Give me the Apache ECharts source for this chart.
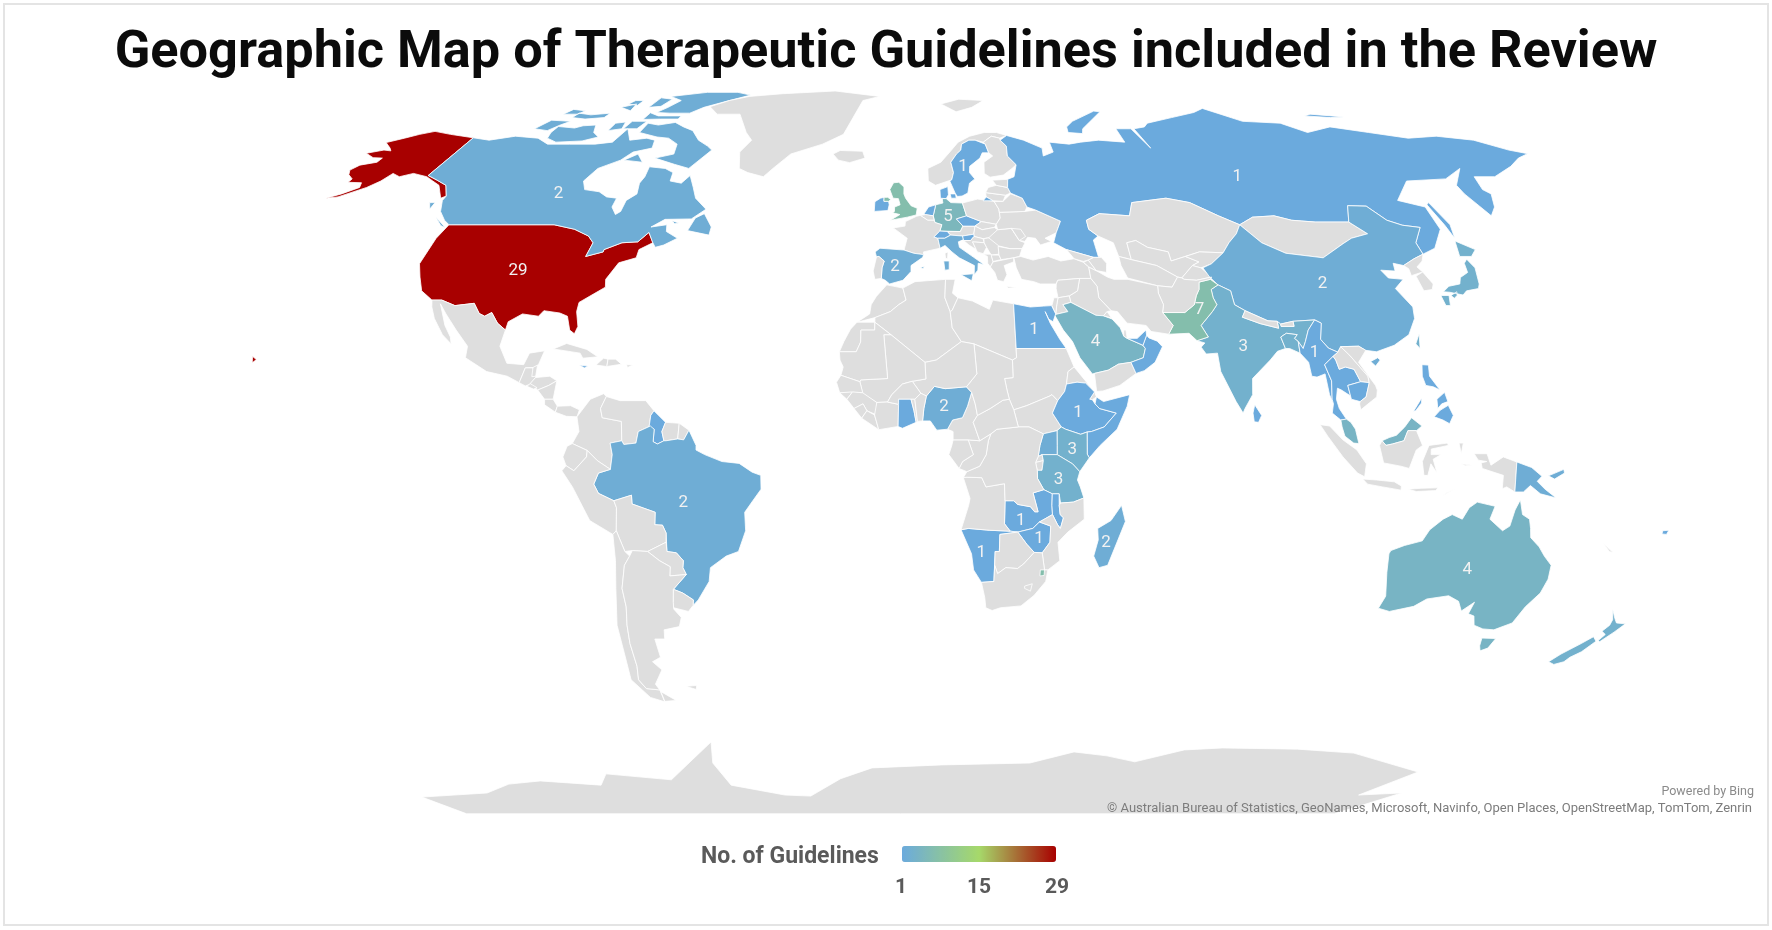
<!DOCTYPE html>
<html>
<head>
<meta charset="utf-8">
<title>Geographic Map of Therapeutic Guidelines</title>
<script src="https://cdn.jsdelivr.net/npm/echarts@6/dist/echarts.min.js"></script>
<style>html,body{margin:0;background:#fff}#main{width:1772px;height:930px}</style>
</head>
<body>
<div id="main"></div>
<script>
// guideline counts per country
const countries = ["United States","Canada","Brazil","Guyana","Jamaica","United Kingdom","Ireland","Sweden","Denmark","Germany","Netherlands","Czechia","Switzerland","Italy","Slovenia","Spain","Russia","China","Japan","Taiwan","India","Pakistan","Bangladesh","Myanmar","Thailand","Cambodia","Malaysia","Philippines","Sri Lanka","Papua New Guinea","Australia","New Zealand","Fiji","Egypt","Saudi Arabia","UAE","Oman","Nigeria","Ghana","Ethiopia","Somalia","Kenya","Uganda","Tanzania","Malawi","Zambia","Zimbabwe","Namibia","Madagascar","Eswatini"];
const guidelines = [29,2,2,1,1,7,1,1,1,5,1,1,1,2,1,2,1,2,3,3,3,7,3,1,1,1,4,1,1,2,4,3,1,1,4,1,1,2,1,1,1,3,2,3,1,1,1,1,2,7];
// countries that carry a number on the map, with where it sits (lon, lat)
const labelled = ["United States","Canada","Brazil","Sweden","Germany","Spain","Russia","China","India","Pakistan","Myanmar","Australia","Egypt","Saudi Arabia","Nigeria","Ethiopia","Kenya","Tanzania","Zambia","Zimbabwe","Namibia","Madagascar"];
const labelLon = [-98.6,-99,-53.3,15.5,10,-4,95,102,79,70,95.7,133.3,29.5,44,7.7,39,37.5,34.4,25.8,30.3,16.7,46.2];
const labelLat = [38.8,56,-11.5,62.4,50.7,39.7,60,36,22.3,30.3,21,-26,26,23.4,9.3,8,0,-6.5,-15.4,-19.3,-22.3,-20.2];
const legendTicks = ["1","15","29"];

// Robinson table, every 5 degrees of latitude
const PLEN = [1,.9986,.9954,.99,.9822,.973,.96,.9427,.9216,.8962,.8679,.835,.7986,.7597,.7186,.6732,.6213,.5722,.5322];
const PDFE = [0,.062,.124,.186,.248,.31,.372,.434,.4958,.5571,.6176,.6769,.7346,.7903,.8435,.8936,.9394,.9761,1];

// rough country outlines, flat lon,lat lists
const outlines = {
 "United States":[[-123,49,-95,49,-89,48,-84.5,46.5,-82.5,45,-83,42,-79,43,-79,43.5,-75,45,-71,45.2,-69,47.3,-67,45,-70,43.5,-70,41.7,-74,40.6,-76,37,-75.5,35.3,-78,33.8,-81,32,-81,30,-80,26.8,-80.5,25.2,-81.8,26,-83,29,-85,29.7,-89,30.2,-90,29,-94,29.5,-97,27.8,-97.2,26,-99.5,27.5,-101.5,29.8,-103,29,-104.5,29.6,-106.5,31.8,-111,31.3,-114.7,32.5,-117.1,32.5,-120.5,34.5,-122.5,37.5,-124.3,40.4,-124,46],[-156,20.3,-154.9,19.6,-155.7,18.9],[-141,69.6,-145,70,-150,70.5,-156.6,71.3,-160,70.5,-163,69.5,-166.8,68.4,-163,67,-161.5,66.3,-164,66.5,-168,65.7,-164,64.6,-161,64.5,-161,63.5,-165,62.8,-166,61.6,-164.5,60.5,-162,59.5,-162,58.7,-158,58.6,-157,57.5,-160,56,-163,55,-160,55.3,-155,57.5,-153,59,-152,60.8,-149,60,-146,60.8,-141,60,-138,59,-135,58,-131,55,-130,55.5,-133,58,-137,59.2,-141,60.3]],
 "Canada":[[-141,69.6,-135,69,-128,70,-120,69.5,-115,68,-108,68,-100,68,-95,68.5,-94,72,-90,69,-85,69.5,-82,69,-81,67,-86,66,-88,64,-93,62,-94.5,59,-92.5,57,-88,56.5,-85,55.3,-82,55,-82,53,-80,51.3,-79,52,-79,54.5,-77,56,-78,58.5,-77.5,60,-78,62.4,-73,62,-70,61,-69.5,59,-66,58.5,-64.5,60.3,-62,57.5,-60,55,-56,52.5,-59,50.3,-66,50.2,-69,48.5,-65,49,-64.5,47.5,-61,46,-64,44.5,-66,44,-67,45,-69,47.3,-71,45.2,-75,45,-79,43.5,-79,43,-83,42,-82.5,45,-84.5,46.5,-89,48,-95,49,-123,49,-125,50,-128,52,-130,54.5,-130,55.5,-133,58,-137,59.2,-141,60.3],[-62,66.5,-66,62,-71,63,-78,64.5,-73,65.5,-74,68,-78,69.5,-82,69.8,-89,71,-89,73.5,-85,73,-80,73.7,-76,72.5,-72,71.5,-68,69,-64,67.5],[-117,69.5,-113,68.5,-105,68.8,-101,69.8,-104,71,-106,73,-110,72.8,-112,72.2,-118,72.6,-118,71],[-125,72,-120,71.5,-118,73,-116,74,-123,74.3],[-90,76.5,-85,76.3,-78,76.3,-75,78,-68,80,-62,82,-68,83,-80,83,-92,81.5,-86,80,-88,78],[-92,74.5,-86,74.6,-80,74.6,-80,75.5,-88,75.5,-92,76.4],[-95,78,-91,78.3,-90,80.5,-95,81],[-87,64,-81,63.5,-84,65.5],[-59,47.7,-53,46.7,-53,48.5,-56,51.5,-58,50.5],[-128,50.7,-123.5,48.4,-125,48.8],[-117,75,-112,74.6,-106,75,-106,76.3,-112,75.8,-117,76.3],[-100,71.5,-96,72,-97,73.8,-100,73.5],[-95.5,72,-91,72,-90,74,-95,74],[-105,78,-100,77,-101,79],[-122,76,-117,76,-116,77,-121,77.4],[-104,79,-100,78.6,-100,80,-103,80],[-64,49.9,-62,49.4,-63,49.2],[-133,54,-131.5,54,-131.5,52.5]],
 "Mexico":[[-117.1,32.5,-114.7,32.5,-111,31.3,-106.5,31.8,-104.5,29.6,-103,29,-101.5,29.8,-99.5,27.5,-97.2,26,-97.8,22.5,-95.5,18.8,-91.5,18.5,-90.5,21,-87,21.5,-88,18.5,-89,17.9,-91,17.8,-92,14.6,-95,16,-100,17,-105.5,20,-105.5,22.5,-109,26,-112.5,29.5,-114.7,31.7,-112,27,-110,24.5,-109.5,23,-112,25,-115,28.5,-116.5,31]],
 "Guatemala":[[-92,14.6,-91,17.8,-89.2,17.8,-88.3,15.7,-89.5,14.2,-90.5,13.9]],
 "Belize":[[-89.2,17.9,-88.2,18.4,-88.3,16,-89.2,15.9]],
 "Honduras":[[-89.4,14.4,-88.3,15.7,-85,16,-83.2,15,-85,14,-87.5,13]],
 "El Salvador":[[-90.1,13.8,-89.4,14.4,-87.7,13.5,-88.5,13.2]],
 "Nicaragua":[[-87.5,13,-85,14,-83.2,15,-83.7,11,-85.7,11]],
 "Costa Rica":[[-85.7,11,-83.7,11,-82.6,9.5,-83,8.2,-85.6,9.8]],
 "Panama":[[-83,8.2,-82.6,9.5,-79.5,9.6,-77.4,8.7,-77.9,7.2,-80.4,7.3]],
 "Cuba":[[-85,21.9,-82,23.1,-77,21.8,-74.2,20.2,-77.7,19.9,-78.5,21]],
 "Jamaica":[[-78.4,18.4,-76.3,18.2,-77,17.8]],
 "Haiti":[[-74.4,18.4,-72.8,19.9,-71.7,19.7,-71.8,18.1]],
 "Dominican Rep":[[-71.7,19.7,-69.9,19.7,-68.4,18.6,-71.8,18.1]],
 "Puerto Rico":[[-67.2,18.5,-65.7,18.4,-66.9,17.9]],
 "Greenland":[[-73,78.2,-68,76,-60,76,-54,71,-51,69,-53,66,-51,62,-48,61,-43,60,-41,62,-37,65.5,-28,68,-22,70.5,-20,75,-18,80,-12,81.5,-30,83.5,-50,82.5,-62,81.5,-68,80]],
 "Iceland":[[-24,65.5,-22,64,-18.5,63.4,-14,64.5,-15,66.2,-22,66.4]],
 "Colombia":[[-77.9,7.2,-75,11,-72,12.2,-71.3,11.6,-72.5,9,-72,7,-67.5,6.2,-67.3,2,-70,1.5,-69.5,-1,-70,-4.2,-73,-2.3,-75.3,-0.1,-78.8,1.4,-77.3,4]],
 "Venezuela":[[-71.3,11.6,-68,10.7,-62,10.7,-60,8.5,-60.7,7.5,-61,5,-60.7,5.2,-63.5,4,-64,1.5,-66.8,1.2,-67.3,2,-67.5,6.2,-72,7,-72.5,9]],
 "Guyana":[[-60,8.5,-57.2,6,-58,4,-57.5,2,-59,1.3,-60,1.8,-59.8,4.5,-61,5,-60.7,7.5]],
 "Suriname":[[-57.2,6,-54,5.8,-54.3,2.4,-57,2,-57.5,2,-58,4]],
 "French Guiana":[[-54,5.8,-51.7,4.3,-52.9,2.2,-54.3,2.4]],
 "Brazil":[[-51.7,4.3,-50,1,-50,0,-48,-1,-44,-2.5,-40,-2.9,-37,-4.8,-35,-5.5,-35,-8.5,-37,-11,-39,-13.5,-39,-17.5,-41,-22,-44,-23,-48,-25.5,-48.7,-28.5,-52,-32.5,-53.5,-33.7,-53.2,-32.5,-55.5,-31,-57.6,-30.2,-54,-27,-54.6,-25.5,-54.3,-24,-55.8,-22.3,-58,-22,-57.8,-18,-58.5,-16.3,-60.3,-16.2,-60,-13.5,-65.3,-11.7,-65.3,-9.8,-69.5,-11,-73,-9.4,-74,-7.4,-72.8,-5,-70,-4.2,-69.5,-1,-70,1.5,-67.3,2,-66.8,1.2,-64,1.5,-63.5,4,-60.7,5.2,-59.8,4.5,-60,1.8,-59,1.3,-57.5,2,-57,2,-54.3,2.4,-52.9,2.2]],
 "Ecuador":[[-78.8,1.4,-75.3,-0.1,-75.5,-1.5,-78.5,-4.5,-80.3,-3.4,-81,-1.5,-80,0.8]],
 "Peru":[[-80.3,-3.4,-78.5,-4.5,-75.5,-1.5,-75.3,-0.1,-73,-2.3,-70,-4.2,-72.8,-5,-74,-7.4,-73,-9.4,-69.5,-11,-69,-12.5,-69.5,-17.5,-70.4,-18.3,-75.5,-15.3,-79,-8,-81.3,-4.5]],
 "Bolivia":[[-69.5,-11,-65.3,-9.8,-65.3,-11.7,-60,-13.5,-60.3,-16.2,-58.5,-16.3,-57.8,-18,-58,-20,-62.6,-22,-66.2,-21.8,-68,-22,-69,-19,-69.5,-17.5,-69,-12.5]],
 "Paraguay":[[-62.6,-22,-58,-20,-58,-22,-55.8,-22.3,-54.3,-24,-54.6,-25.5,-54,-27,-58,-27.3,-57.6,-25.3,-60,-24]],
 "Chile":[[-70.4,-18.3,-69.5,-17.5,-69,-19,-68,-22,-67,-23,-68.5,-25,-70,-30,-70,-34,-71,-38,-71.7,-42,-72,-47,-73,-50,-72,-52,-68.5,-52.3,-68.6,-55,-72,-54,-75,-50,-74,-44,-73.5,-38,-71.5,-30,-70.5,-24]],
 "Argentina":[[-66.2,-21.8,-62.6,-22,-60,-24,-57.6,-25.3,-58,-27.3,-54,-27,-57.6,-30.2,-58.2,-33,-58.4,-34.5,-57,-36.3,-58,-38.3,-62,-39,-62.5,-41,-65,-41,-65,-45,-67.5,-46,-65.8,-47.8,-69,-51,-68.5,-52.3,-72,-52,-73,-50,-72,-47,-71.7,-42,-71,-38,-70,-34,-70,-30,-68.5,-25,-67,-23],[-68.4,-52.7,-65.2,-54.7,-68.5,-54.9]],
 "Uruguay":[[-57.6,-30.2,-55.5,-31,-53.2,-32.5,-53.5,-33.7,-54.9,-35,-58.4,-34.2,-58.2,-33]],
 "Falklands":[[-61,-51.5,-58,-51.3,-58.5,-52.2]],
 "Ireland":[[-10,52,-6.3,52.2,-6,53.5,-6.2,54.3,-7.5,54.3,-7.5,55.2,-8.5,55,-10,54.2]],
 "United Kingdom":[[-5.5,50,-1,50.7,1.4,51.2,1.7,52.7,0,53.3,-1.5,55,-2,56,-2,57.6,-3.5,58.7,-5,58.6,-6,57,-5,55,-3.5,54.9,-3,53.5,-4.5,53,-4.5,52,-5,51.7,-3,51.3],[-7.5,54.3,-6.2,54.3,-5.6,54.7,-6.5,55.2,-7.5,55.2]],
 "Norway":[[5,59,7,58,10.7,59,11.8,59.3,12.5,61,12,63.5,14,65.5,15.5,66.5,16,68,18.5,69,20.5,69,23,68.5,26,70,28.5,69.5,31,70.2,28,71,24,71,19,70,15,68.5,12,66,9,63.5,5,62]],
 "Sweden":[[11.2,59,12.5,56,13,55.4,14.3,55.5,16,56.2,16.8,58.5,18.5,59.5,17.2,61,17.5,62.5,21,64.5,22,65.8,24,65.8,23.5,68,20.5,69,18.5,69,16,68,15.5,66.5,14,65.5,12,63.5,12.5,61,11.8,59.3]],
 "Finland":[[21.5,60.8,23,59.9,27,60.4,30,62,31.5,62.9,29.5,65,30,67.5,28.5,69,28.5,69.5,26,70,23,68.5,23.5,68,24,65.8,25,65,22,63.5]],
 "Denmark":[[8.2,55,8.2,57,10.5,57.7,10.5,55.8,9.8,54.9],[11.2,55,12.6,55,12.5,56,11,56]],
 "Germany":[[6.8,53.5,8.8,53.9,8.7,54.9,9.8,54.9,11,54,14.2,53.9,15,51,12.2,50.3,13.8,48.7,13,47.5,7.6,47.6,8.2,49,6.4,49.5,6,51]],
 "Netherlands":[[3.5,51.4,4.8,53,6.8,53.5,6,51,4,51.2]],
 "Belgium":[[2.5,51.1,4,51.3,6,51,6.2,50,4.5,50]],
 "France":[[-1.8,43.4,-1,46,-4.7,48.3,-1.6,48.7,-1.5,49.7,1.5,50.9,2.5,51.1,4.5,50,6.2,50,6.4,49.5,8.2,49,7.6,47.6,6,46.3,7,46,7.5,43.8,3.2,43,3.2,42.4,0.7,42.7],[8.7,42.7,9.5,43,9.3,41.5,8.8,41.6]],
 "Spain":[[-9.2,43,-8,43.8,-1.8,43.4,0.7,42.7,3.2,42.4,3,41.8,0,40,0,38.7,-2,36.8,-5.3,36,-6.4,36.8,-7.4,37.2,-7.3,39.5,-6.8,41,-8.2,42,-8.8,41.9],[2.4,39.6,3.4,39.8,3,39.3]],
 "Portugal":[[-8.8,41.9,-8.2,42,-6.8,41,-7.3,39.5,-7.4,37.2,-9,37,-9.5,38.8]],
 "Switzerland":[[6,46.3,7.6,47.6,9.6,47.5,10.4,46.7,8.8,46,7,46]],
 "Austria":[[9.6,47.5,13,47.5,13.8,48.7,17,48.7,16.5,46.9,13.5,46.5,10.4,46.7]],
 "Italy":[[7,46,8.8,46,10.4,46.7,13.5,46.5,13.7,45.7,12.3,45.2,12.5,44,16,41.8,18.5,40.2,17,40.5,16.8,39,15.8,38,16,40,12.3,41.7,10.5,43,8.8,44.4,7.5,43.8],[12.5,38,15.6,38.2,15.1,36.7],[8.3,41,9.7,41,9.6,39.1,8.5,39]],
 "Czechia":[[12.2,50.3,15,51,18.8,49.7,17,48.7,13.8,48.7]],
 "Poland":[[14.2,53.9,18.5,54.8,23,54.3,24,52.5,24,50.5,22.7,49.1,18.8,49.7,15,51]],
 "Slovakia":[[17,48.7,18.8,49.7,22.7,49.1,22.1,48.4,18.8,47.9]],
 "Hungary":[[16.5,46.9,17,48.7,18.8,47.9,22.1,48.4,22.9,47.9,21,46.2,18.8,45.9,16.5,46.4]],
 "Slovenia":[[13.5,46.5,16.5,46.9,16.5,46.4,15.5,45.5,13.7,45.5]],
 "Croatia":[[13.7,45.5,15.5,45.5,16.5,46.4,18.8,45.9,19,45,16,45.2,17,43,18.5,42.5,15,44.5]],
 "Bosnia":[[16,45.2,19,45,19.5,44,18.5,42.6,17,43]],
 "Serbia":[[19,45.9,21,46.2,22.7,44.5,22.5,42.5,20.5,42.3,19.5,44,19,45]],
 "Albania":[[18.5,42.5,20.5,42.5,20.8,40.8,20,39.7,19.4,40.5,19.5,42]],
 "North Macedonia":[[20.5,42.3,22.5,42.3,22.9,41.3,20.8,40.9]],
 "Romania":[[20.3,46.1,22.9,47.9,26.6,48.2,28.2,45.5,29.6,45,28.6,43.7,25.5,43.7,22.7,44.3]],
 "Bulgaria":[[22.5,44.2,25.5,43.7,28.6,43.7,27.7,42,26.2,41.7,22.9,41.3,22.5,42.3]],
 "Greece":[[20,39.7,20.8,40.8,26.2,41.7,26,40.8,23.5,40,24,38,23,36.5,21.5,36.8,21,38.5],[23.6,35.5,26.3,35.2,24,35.1]],
 "Turkey":[[26.2,41.7,28,42,31,41.2,35,42,38,41,41.5,41.5,43.7,40.7,44.8,39.7,44.8,37.2,42,37.2,36.5,36.8,36,36,32,36,30.5,36.5,27.5,37,26.5,39.5]],
 "Ukraine":[[22.7,49.1,24,50.5,24,51.8,31,52,34,52.3,40,49.8,38.2,47.2,35,46,36.5,45.3,33.5,44.5,32.5,46,30.5,46.2,29.6,45.3,28.2,45.5,26.6,48.2,22.9,47.9]],
 "Moldova":[[26.6,48.2,29,48,30,46.4,28.2,45.5]],
 "Belarus":[[23,54.3,25.5,54.3,28,56,31,55,31.8,53,31,52,24,51.8,24,52.5]],
 "Lithuania":[[21,55.3,22.8,54.4,25.5,54.3,26.5,55.7,21,56.3]],
 "Latvia":[[21,56.3,26.5,55.7,28,56.2,27.5,57.5,24.4,58,22,57.5]],
 "Estonia":[[24.4,58,27.5,57.5,28,59.4,23.5,59.2]],
 "Russia":[[28,59.4,30,60,31.5,62.9,29.5,65,30,67.5,28.5,69,31,70.2,36,69,41,67,40.5,65,44,66,44,68.5,50,68,54,68.5,60,69,68,68.5,68,72,73,72,75,67,74,72,78,72.5,80,73.5,90,75,100,76.5,105,77.7,113,74,125,73.5,130,71,140,72.5,150,71,160,69.5,170,70,180,69,186,66.5,190,65.6,185,64.5,179,62.5,170,60,164,60,162,57,163,56,160,53,156.7,51,155.5,56,156,58,163,62,155,59.5,143,59,135,54.5,141,53,140,48,135,43.8,131,42.5,131,45,135,48.4,130.7,48.9,127.5,50,125,53.2,120,53.3,117,49.6,108,49.6,102,50,98,51,92,50.7,87.5,49,83,51,77,54,71,55,61,54,59,51,51,51.5,47,50,47,48,49,46.5,47.5,45.6,47.8,42,48.5,41.8,46.5,41.8,40,43.5,37,45,38.2,47.2,40,49.8,34,52.3,31.8,53,31,55,28,56.2,27.5,57.5],[51.5,71,56,70.7,57,72,67,76.7,65,76.9,55,74,52,72.5],[142,46,143.5,49,143,54,142,53.5,142,49],[137,75.5,145,75,150,75.2,140,76],[20,54.4,22.8,54.4,21,55.3]],
 "Svalbard":[[11,79,16,76.7,22,78,27,80,18,80.5]],
 "Kazakhstan":[[47,50,51,51.5,59,51,61,54,71,55,77,54,83,51,87.5,49,85.5,47,82.5,45,80,42.8,74,43,70,42,66,41,66,43,61,44,58.5,45.5,56,45,56,41.3,53,42,52.5,45,49,46.5,47,48]],
 "Uzbekistan":[[56,45,58.5,45.5,61,44,66,43,66,41,70,42,73,40.8,71,40,67.5,37.3,66.5,37.5,62,40,56,41.3]],
 "Turkmenistan":[[53,42,56,41.3,62,40,66.5,37.5,64.5,35.3,61,35.6,54,37.3,53,40]],
 "Kyrgyzstan":[[70,42,74,43,80,42.8,76,40.4,73,39.5,71,40,73,40.8]],
 "Tajikistan":[[67.5,37.3,71,40,73,39.5,75,37.5,71,36.8,68,37]],
 "Mongolia":[[87.5,49,92,50.7,98,51,102,50,108,49.6,117,49.6,120,47,115,46,112,44.8,105,41.7,96,42.7,91,45]],
 "China":[[73.5,39.5,76,40.4,80,42.8,82.5,45,85.5,47,87.5,49,91,45,96,42.7,105,41.7,112,44.8,115,46,120,47,117,49.6,120,53.3,125,53.2,127.5,50,130.7,48.9,135,48.4,131,45,131,42.5,128,41.5,124.3,40,122,40.5,121.5,38.8,118,39,119,37.3,122.5,37,119.5,35,122,31,121.5,28.5,119,25,115,22.7,110.5,21.3,108,21.6,106.5,22.5,102.2,22.4,101.3,21.2,99.2,22.1,97.7,24,98.7,27.5,97.3,28.2,92,27.9,88.9,27.3,88.2,27.9,86,28,81,30.2,78.8,31.5,78.7,34.5,76,35.8,74.5,37.5],[108.7,19.2,110.5,20,111,19.5,109.7,18.2]],
 "Taiwan":[[120.2,23,121.5,25.2,121,22]],
 "North Korea":[[124.3,40,128,41.5,131,42.5,129.7,41,127.5,39.7,128.3,38.6,125,37.8,125.2,39.3]],
 "South Korea":[[126.1,37.7,128.3,38.6,129.4,36,128.5,34.8,126.3,34.5]],
 "Japan":[[131,34.3,133,35.5,136,36,137,37.4,139.5,38.5,140,40.5,141.3,41.4,142,39.5,140.8,36,140,35,136.8,34.5,135.5,33.6,132.5,34.2],[130,33.5,132,33.5,131.3,31.3,130.2,31.3],[132.5,33.5,134.3,34.3,134,33.5,133,32.9],[140,42,141.5,45.4,145.2,43.5,143,42]],
 "Philippines":[[120.3,16,120.7,18.5,122.2,18.4,122,16,124,13,122.5,13.7,120.8,14],[122,7.2,123.5,8.6,125.5,9.7,126.5,7.5,125.5,5.7,124,6.5],[123,9,123,11,125,12.5,125.5,10.5,124,10],[117.3,8.4,119.5,11.3,119.3,10.2,117.8,8.5]],
 "India":[[76,35.8,78.7,34.5,78.8,31.5,81,30.2,80,28.8,84,27.4,88.2,26.4,88.2,27.9,88.9,27.3,88.9,26.8,92,26.8,92,27.9,97.3,28.2,95.2,26,94,23.5,93.2,22,92.3,23.5,91.5,24.2,92.3,25,89.8,25.3,88.3,24.5,89,22,87,21.4,85,19.5,80.3,15.5,80,12,78,9,77.5,8,76,10.5,73,17,72.7,21,70,20.8,69,22.3,70,23.2,68.2,23.7,71,24.5,69.7,27,73,30,74.5,31.5,74,33,74,34.8]],
 "Pakistan":[[71.5,36.4,74.5,37,76,35.8,74,34.8,74,33,74.5,31.5,73,30,69.7,27,71,24.5,68.2,23.7,66.5,25.3,61.6,25.1,63,27,60.9,29.8,66.3,29.8,69,31.5,70,33.5,71,34.8]],
 "Afghanistan":[[61,35.6,64.5,35.3,66.5,37.5,67.5,37.3,68,37,71,36.8,75,37.5,74.5,37,71.5,36.4,71,34.8,70,33.5,69,31.5,66.3,29.8,60.9,29.8,61.5,31.5,60.8,34]],
 "Iran":[[44.8,39.7,46.5,38.9,49,37.5,50.5,37,54,37,61,35.6,60.8,34,61.5,31.5,60.9,29.8,63,27,61.6,25.1,57.5,25.7,56.5,27,52,27.5,50,30,48.5,30.2,46,33,46,35.5,44.8,37.2]],
 "Iraq":[[42,37.2,44.8,37.2,46,35.5,46,33,48.5,30.2,47.5,30,46.5,29.1,44.7,29.2,39,32,38.8,33.4,41,34.5]],
 "Syria":[[36,36,36.5,36.8,42,37.2,41,34.5,38.8,33.4,36,33,35.8,35]],
 "Jordan":[[36,33,38.8,33.4,39,32,37,31.5,38,30,35,29.4,35.5,31.5]],
 "Israel":[[34.3,31.3,35,33,36,33,35.5,31.5,35,29.5]],
 "Saudi Arabia":[[34.7,29.3,35,29.4,38,30,37,31.5,39,32,44.7,29.2,46.5,29.1,48.5,28.4,50.2,26.5,50.8,24.7,51.6,24.2,55.2,22.7,55.7,22,55,20,52,19,49,18.6,46.5,17.3,43.2,16.6,42.7,16.5,40,20,38.5,23.5,36.5,26]],
 "Yemen":[[43.2,16.6,46.5,17.3,49,18.6,52,19,53,16.6,49,14,45,12.8,43.5,12.7]],
 "Oman":[[52,19,55,20,55.7,22,55.2,22.7,56.3,24.9,56.8,24.3,58.7,23.6,59.8,22.4,57.7,19,55,17.2,53,16.6]],
 "UAE":[[51.6,24.2,55.2,22.7,56.3,24.9,56.3,26,54,24.2]],
 "Kuwait":[[46.5,29.1,47.5,30,48.4,28.6]],
 "Qatar":[[50.8,24.7,51.6,24.2,51.5,26,51,26]],
 "Azerbaijan":[[45,41.2,46.5,41.8,48.5,41.8,49.5,40.5,49,38.5,46.5,38.9]],
 "Georgia":[[40,43.5,46.5,41.8,45,41.2,43.7,40.9,41.5,41.5]],
 "Armenia":[[43.7,40.7,45,41.2,46.5,38.9,44.8,39.7]],
 "Nepal":[[80,28.8,81,30.2,86,28,88.2,27.9,88.2,26.4,84,27.4]],
 "Bhutan":[[88.9,27.3,92,27.9,92,26.8,88.9,26.8]],
 "Bangladesh":[[88.3,24.5,89.8,25.3,92.3,25,91.5,24.2,92.3,23.5,92.3,21,90,22,89,22]],
 "Myanmar":[[97.3,28.2,98.7,27.5,97.7,24,99.2,22.1,101.3,21.2,100,20.3,97.7,18.5,98.8,15,98.5,11,98.7,10,98,12,97.5,16.5,95.5,15.8,94.3,16,94,19,92.3,21,92.3,23.5,93.2,22,94,23.5,95.2,26]],
 "Thailand":[[100,20.3,100.5,19.5,101,17.5,102.5,18,104.5,17.5,105.6,14.8,102.5,14,102.9,11.7,100.9,13,100,13.4,99.5,11,100,9,101.5,6.7,100.2,6.5,98.3,8,98.7,10,98.5,11,98.8,15,97.7,18.5]],
 "Laos":[[101.3,21.2,102.2,22.4,104,20.5,107.5,16,107.6,14.6,105.6,14.8,104.5,17.5,102.5,18,101,17.5,100.5,19.5,100,20.3]],
 "Cambodia":[[102.5,14,105.6,14.8,107.6,14.6,106.5,11.5,105,10.5,103,11]],
 "Vietnam":[[102.2,22.4,106.5,22.5,108,21.6,105.8,19,109,14,109.3,13,109,11.5,106.8,10,105,8.7,104.8,10,105,10.5,106.5,11.5,107.6,14.6,107.5,16,104,20.5]],
 "Malaysia":[[100.2,6.5,101.5,6.7,102.5,6,103.5,4.5,104.2,1.4,103,1.5,101,3,100.4,5],[109.6,2,111.3,2.7,113,3.2,115,5,116.7,7,119,5.2,117.7,4.2,115.7,4.2,114.7,2,112,1.3,110.5,1]],
 "Indonesia":[[109,1,109.6,2,110.5,1,112,1.3,114.7,2,115.7,4.2,117.7,4.2,119,1,117.5,0,116,-4,114,-3.5,110,-2.8,109.2,0],[95.3,5.5,97.5,5.2,100.5,2.2,103.7,0,106,-3,105.7,-5.8,104,-5,100.5,-1.5,97,3],[105.3,-6.3,108.5,-6.5,112.7,-6.9,114.4,-7.8,114.4,-8.7,110,-8,106.5,-7.4],[119.5,-5.5,119,-2.5,120.5,1,124.8,1.5,125,1,121,0.2,121,-1,123.3,-1,121.5,-2,122.5,-5,121,-3,120.4,-5.5],[124,-10,127,-8.4,125,-9.3],[116,-8.5,119,-8.3,123,-8.2,122.5,-8.8,118,-9],[127.5,1.5,128.5,1.5,128,-0.8],[128,-3,130.8,-3.3,129,-3.4],[131,-0.8,134,-0.8,135,-3.3,137.8,-1.5,141,-2.6,141,-9.1,139,-8,138,-8.4,138,-5.5,133,-4,132.7,-2.8,134,-2.5,132,-2.2]],
 "Papua New Guinea":[[141,-2.6,144.5,-3.8,147,-5.7,146,-6.8,148,-8.5,150.8,-10.4,147,-9.5,144.5,-7.7,143,-9.1,141,-9.1],[148.5,-5.6,152,-4.2,152.2,-5,150,-6.3]],
 "Sri Lanka":[[79.8,8,80.3,9.8,81.8,7.5,81,6,80,6.1]],
 "Australia":[[113.7,-22.5,114.2,-26.5,115.7,-31.7,115,-34.3,118,-35,123.5,-33.9,126,-32.3,131,-31.6,134,-32.8,135.7,-34.9,138,-33,137.8,-35.5,139.5,-36,140.8,-38,143.5,-38.8,146.4,-39,150,-37.5,151,-34,153,-31,153.5,-28,153,-25,150.8,-23,149,-21,146.5,-19,146,-17,145.3,-15,143.5,-14,142.5,-10.8,141.6,-13,141,-16.5,139.5,-17.5,136,-15,136.8,-12.2,132.5,-11.3,130.8,-12.5,129.5,-15,127,-14,125,-15,122.3,-17.3,121,-19.7,117,-20.7,114,-21.8],[144.7,-40.8,148.3,-40.9,148,-43,146.5,-43.6,145.5,-42.5]],
 "New Zealand":[[172.8,-34.5,174.8,-36.5,176,-37.5,178.4,-37.7,177,-39.5,175.3,-41.6,174.7,-41.3,175.2,-40,173.8,-39.3,174.7,-38,174.5,-36.8],[172.7,-40.5,174.3,-41.5,172.8,-43.8,171,-45,170.5,-46,168.5,-46.6,166.5,-46,168,-44.3,171,-42]],
 "New Caledonia":[[164,-20.2,167,-22.3,166,-22]],
 "Fiji":[[177.3,-17.5,178.7,-17.4,178.4,-18.3,177.3,-18.2]],
 "Morocco":[[-6,35.8,-2,35.1,-1.2,32.5,-3,31.5,-5,30,-8.7,28.7,-13,27.7,-10,29.5,-9.7,31.5,-8.5,33.3]],
 "Western Sahara":[[-13,27.7,-8.7,27.7,-8.7,26,-12,26,-12,23.4,-13,21.3,-17,21.3,-16,23.5,-14.5,26.2]],
 "Algeria":[[-2,35.1,1,36.5,8.6,37,8.3,33,9.5,30,9.9,26.5,12,23.5,6,19.5,3.3,19,-4.8,25,-8.7,27.7,-8.7,28.7,-5,30,-3,31.5,-1.2,32.5]],
 "Tunisia":[[8.6,37,11,37,10.2,34,11.5,33,10,30.3,9.5,30,8.3,33]],
 "Libya":[[11.5,33,15,32.3,19,30.5,20,32.5,25,31.7,25,20,24,19.5,15,23,12,23.5,9.9,26.5,9.5,30,10,30.3]],
 "Egypt":[[25,31.7,29,31,32.3,31.2,34.2,31.3,35,29.5,34.2,27.8,33.2,28.4,32.5,30,33.5,27.5,35.5,24,36.9,22,25,22]],
 "Sudan":[[25,22,36.9,22,38.5,18,37,17,36.5,14.3,36,12.7,34.3,10.7,33,12,32.5,11.7,27,9.6,24,8.7,23,11,22.5,13,22,15.5,24,15.7,24,19.5,25,20]],
 "South Sudan":[[24,8.7,27,9.6,32.5,11.7,33,12,34.3,10.7,33,8,35,5,34,4.2,30.8,3.5,27.5,5,25,5]],
 "Eritrea":[[36.5,14.3,37,17,38.5,18,43,12.6,41,14.5,39,14.7]],
 "Djibouti":[[41.8,11,43,12.6,43.4,11.5,42.4,10.9]],
 "Ethiopia":[[36.5,14.3,39,14.7,41,14.5,43,12.6,41.8,11,42.4,10.9,43,10,44,9,47.9,8,45,5,42,4,41,3.9,39.5,3.4,36,4.5,35,5,33,8,34.3,10.7,36,12.7]],
 "Somalia":[[43.4,11.5,45,10.5,51.2,12,50.5,9.5,48,4.5,44,1,41.5,-1.7,41,-0.9,41,3.9,42,4,45,5,47.9,8,44,9,43,10]],
 "Kenya":[[34,4.2,35,5,36,4.5,39.5,3.4,41,3.9,41,-0.9,41.5,-1.7,39.3,-4.7,37.6,-3,34,-1,34,1]],
 "Uganda":[[30.8,3.5,34,4.2,34,1,34,-1,30.5,-1,29.6,-1.4,30,1]],
 "Rwanda":[[29,-2.7,29.6,-1.4,30.5,-1,30.8,-2.3]],
 "Burundi":[[29,-2.7,30.8,-2.3,30.5,-4.4,29.4,-4.4]],
 "Tanzania":[[30.5,-1,34,-1,37.6,-3,39.3,-4.7,38.8,-6.5,39.5,-8,40.4,-10.4,38,-11.3,35,-11.5,34.6,-9.5,33,-9.5,31,-8.6,29.5,-6.2,29.4,-4.4,30.5,-4.4,30.8,-2.3]],
 "Zambia":[[22,-11,24,-11,25,-11.8,28,-12.3,29,-13.4,29.8,-13.4,28.5,-9.3,31,-8.6,33,-9.5,33,-12,33.2,-14,30.2,-15.6,28.7,-17,25.2,-17.8,23.4,-17.6,22,-16,22,-13]],
 "Malawi":[[33,-9.5,34.6,-9.5,34.7,-12,35,-14,35.8,-14.7,35.2,-17,34.5,-16.2,33.2,-14,33,-12]],
 "Zimbabwe":[[25.2,-17.8,28.7,-17,30.2,-15.6,32.9,-16.5,32.9,-20,31.2,-22.3,29.3,-22.2,27.5,-20.5]],
 "Mozambique":[[30.2,-15.6,33.2,-14,34.5,-16.2,35.2,-17,35.8,-14.7,35,-14,34.7,-12,35,-11.5,38,-11.3,40.4,-10.4,40.7,-15,37,-17.8,34.8,-20,35.5,-24,32.8,-26,32,-26,31.2,-22.3,32.9,-20,32.9,-16.5]],
 "Namibia":[[11.8,-17.3,13.5,-17,18.5,-17.4,23.4,-17.6,25.2,-17.8,21,-18.3,21,-22,20,-22,20,-28.5,17,-28.7,15,-26,14.4,-22.5]],
 "Botswana":[[21,-18.3,25.2,-17.8,27.5,-20.5,29.3,-22.2,26.9,-24.7,25.5,-25.7,22.7,-25.5,20.8,-26.8,20,-25,20,-22,21,-22]],
 "South Africa":[[17,-28.7,20,-28.5,20,-25,20.8,-26.8,22.7,-25.5,25.5,-25.7,26.9,-24.7,29.3,-22.2,31.2,-22.3,32,-26,32.8,-26,32.5,-28.5,30,-31.5,27,-33.8,22,-34.2,20,-34.8,18.4,-34.2,18,-32]],
 "Eswatini":[[31,-26,32,-26,32,-27.2,31,-27.3]],
 "Lesotho":[[27.5,-29.5,29.3,-29,29,-30.6,27.5,-30]],
 "Angola":[[12.2,-6,13,-5.9,16.5,-6,17.5,-8,21.8,-7.3,22,-11,22,-13,22,-16,23.4,-17.6,18.5,-17.4,13.5,-17,11.8,-17.3,13.5,-12,13.8,-10.5]],
 "DR Congo":[[12.2,-6,13,-4.7,16,-3.5,17.5,-1,18,2,18.6,3.5,20,4.5,25,5,27.5,5,30.8,3.5,30,1,29.6,-1.4,29,-2.7,29.4,-4.4,29.5,-6.2,31,-8.6,28.5,-9.3,29.8,-13.4,29,-13.4,28,-12.3,25,-11.8,24,-11,22,-11,21.8,-7.3,17.5,-8,16.5,-6,13,-5.9]],
 "Congo":[[11.2,-4,13,-4.7,16,-3.5,17.5,-1,18,2,18.6,3.5,16,2,13.3,2.2,14.5,-1,12,-2.5]],
 "Gabon":[[9.5,1,9.8,2.2,13.3,2.2,14.5,-1,12,-2.5,11.2,-4,8.8,-1]],
 "Cameroon":[[8.5,4.5,9.7,6.5,12,7,13.2,9.5,14.2,12.5,15,10,15.5,7.5,14.5,6,16,2,13.3,2.2,9.8,2.2,9.8,4]],
 "Nigeria":[[2.7,6.3,3,9,3.6,11.7,5.5,13.8,8,13.3,13,13.7,14.2,12.5,13.2,9.5,12,7,9.7,6.5,8.5,4.5,6,4.3,4.5,6.3]],
 "CAR":[[14.5,6,15.5,7.5,18.5,9,21.5,10.8,23,11,24,8.7,25,5,20,4.5,18.6,3.5,16,2]],
 "Chad":[[15,23,24,19.5,24,15.7,22,15.5,22.5,13,23,11,21.5,10.8,18.5,9,15.5,7.5,15,10,14.2,12.5,13,13.7,15.5,16.5]],
 "Niger":[[3.3,19,6,19.5,12,23.5,15,23,15.5,16.5,13,13.7,8,13.3,5.5,13.8,3.6,11.7,2.3,12.3,0.3,14.9,3.5,15.4]],
 "Mali":[[-12,14.8,-11.3,12.2,-8,10.3,-5.5,10.4,-4.5,12,-2,14.3,0.3,14.9,3.5,15.4,3.3,19,-4.8,25,-6.5,25,-5.5,15.5,-11.8,15.2]],
 "Mauritania":[[-17,21.3,-13,21.3,-12,23.4,-12,26,-8.7,26,-8.7,27.7,-4.8,25,-6.5,25,-5.5,15.5,-11.8,15.2,-12,14.8,-16.5,16.2,-16,18,-16.8,19.5]],
 "Senegal":[[-16.5,16.2,-12,14.8,-11.3,12.4,-16.7,12.4,-17.5,14.7]],
 "Guinea-Bissau":[[-16.7,12.4,-13.7,12.6,-15,11]],
 "Guinea":[[-15,11,-13.7,12.6,-11.3,12.4,-8,10.3,-8,7.6,-10.3,8.5,-11.2,10,-13.3,9]],
 "Sierra Leone":[[-13.3,9,-11.2,10,-10.3,8.5,-11.5,6.9]],
 "Liberia":[[-11.5,6.9,-10.3,8.5,-8.5,7.6,-7.5,4.4]],
 "Ivory Coast":[[-8.5,7.6,-8,10.3,-5.5,10.4,-2.9,9.9,-3,5.1,-7.5,4.4]],
 "Burkina Faso":[[-5.5,10.4,-2.9,9.9,-2.9,11,0,11,0.9,11,2.3,12.3,0.3,14.9,-2,14.3,-4.5,12]],
 "Ghana":[[-2.9,9.9,-2.9,11,0,11,0.7,8.5,1.2,6,-2,4.7,-3,5.1]],
 "Togo":[[0,11,0.9,11,1.5,6.2,1.2,6,0.7,8.5]],
 "Benin":[[0.9,11,2.3,12.3,3.6,11.7,3,9,2.7,6.3,1.5,6.2]],
 "Madagascar":[[49.3,-12,50.4,-15.5,49.5,-18,47,-25,45,-25.5,43.5,-23,44.3,-19.5,44,-17,47,-15.3]],
 "Antarctica":[[-181,-79.3,-153.8,-78.1,-140,-75.5,-127.4,-74.6,-108.4,-75.8,-102.2,-72.7,-82,-74.3,-71.7,-69.8,-60.9,-64.5,-64,-69.8,-62.9,-75.8,-46.2,-78.7,-36.9,-79,-24,-74,-12.8,-71.1,10,-70.3,38.4,-69.8,51,-67,62,-68,72,-69.5,85,-66.5,96.4,-66,120,-66.3,139,-67.3,168.8,-72.2,164,-78.7,178,-78.1,173,-85.4,-181.6,-85.4]]
};

function lerp(table, lat) {
  const t = Math.min(Math.abs(lat), 90) / 5, i = Math.min(Math.floor(t), 17);
  return table[i] + (table[i + 1] - table[i]) * (t - i);
}
const xScale = 4.3, yScale = 372, midLon = 911, midLat = 450;
const robinson = {
  project: function (p) {
    return [midLon + xScale * lerp(PLEN, p[1]) * p[0],
            midLat - yScale * lerp(PDFE, p[1]) * Math.sign(p[1])];
  },
  unproject: function (p) {
    const d = (midLat - p[1]) / yScale;
    let i = 0;
    while (i < 17 && PDFE[i + 1] < Math.abs(d)) i++;
    const lat = (i + (Math.abs(d) - PDFE[i]) / (PDFE[i + 1] - PDFE[i])) * 5 * Math.sign(d);
    return [(p[0] - midLon) / (xScale * lerp(PLEN, lat)), lat];
  }
};

const features = [];
let box = [1e9, 1e9, -1e9, -1e9];
Object.keys(outlines).forEach(function (name) {
  const rings = outlines[name].map(function (flat) {
    const ring = [];
    for (let i = 0; i < flat.length; i += 2) {
      ring.push([flat[i], flat[i + 1]]);
      const q = robinson.project([flat[i], flat[i + 1]]);
      box = [Math.min(box[0], q[0]), Math.min(box[1], q[1]), Math.max(box[2], q[0]), Math.max(box[3], q[1])];
    }
    ring.push(ring[0]);
    return [ring];
  });
  const at = labelled.indexOf(name);
  const props = { name: name };
  if (at >= 0) props.cp = [labelLon[at], labelLat[at]];
  features.push({ type: "Feature", properties: props, geometry: { type: "MultiPolygon", coordinates: rings } });
});
echarts.registerMap("world", { type: "FeatureCollection", features: features });

const seriesData = countries.map(function (name, i) {
  return { name: name, value: guidelines[i], label: { show: labelled.indexOf(name) >= 0 } };
});

let myChart = echarts.init(document.getElementById("main"));
myChart.setOption({
  animation: false,
  backgroundColor: "#fff",
  title: {
    text: "Geographic Map of Therapeutic Guidelines included in the Review",
    left: 881, top: 23, textAlign: "center",
    textStyle: { fontFamily: "Roboto", fontWeight: 700, fontSize: 52.3, color: "#0b0b0b" }
  },
  visualMap: {
    type: "continuous", min: 1, max: 29, orient: "horizontal",
    left: 902, top: 846, padding: 0,
    itemWidth: 16, itemHeight: 154, text: null, calculable: false, hoverLink: false,
    seriesIndex: 0,
    inRange: { color: ["#6BAADD", "#A6D96A", "#A80000"] }
  },
  series: [{
    type: "map",
    map: "world",
    projection: robinson,
    left: box[0], top: box[1], width: box[2] - box[0], height: box[3] - box[1],
    roam: false, silent: true,
    itemStyle: { areaColor: "#DEDEDE", borderColor: "#fff", borderWidth: 0.8 },
    emphasis: { disabled: true },
    label: { show: false, formatter: "{c}", color: "#f2f2f2", fontFamily: "Roboto", fontSize: 17 },
    data: seriesData
  }],
  graphic: [
    { type: "rect", z: 100, silent: true, shape: { x: 4, y: 4, width: 1764, height: 921 }, style: { fill: "none", stroke: "#e4e4e4", lineWidth: 2 } },
    { type: "text", z: 100, silent: true, style: { x: 1754, y: 792, text: "Powered by Bing", align: "right", verticalAlign: "middle", fill: "#8a8a8a", font: "12.5px 'Roboto'" } },
    { type: "text", z: 100, silent: true, style: { x: 1752, y: 809, text: "© Australian Bureau of Statistics, GeoNames, Microsoft, Navinfo, Open Places, OpenStreetMap, TomTom, Zenrin", align: "right", verticalAlign: "middle", fill: "#7c7c7c", font: "13px 'Roboto'" } },
    { type: "text", z: 100, silent: true, style: { x: 701, y: 857, text: "No. of Guidelines", align: "left", verticalAlign: "middle", fill: "#5a5a5a", font: "700 23px 'Roboto'" } },
    { type: "text", z: 100, silent: true, style: { x: 901, y: 888, text: legendTicks[0], align: "center", verticalAlign: "middle", fill: "#5a5a5a", font: "700 21px 'Roboto'" } },
    { type: "text", z: 100, silent: true, style: { x: 979, y: 888, text: legendTicks[1], align: "center", verticalAlign: "middle", fill: "#5a5a5a", font: "700 21px 'Roboto'" } },
    { type: "text", z: 100, silent: true, style: { x: 1057, y: 888, text: legendTicks[2], align: "center", verticalAlign: "middle", fill: "#5a5a5a", font: "700 21px 'Roboto'" } }
  ]
});
</script>
</body>
</html>
